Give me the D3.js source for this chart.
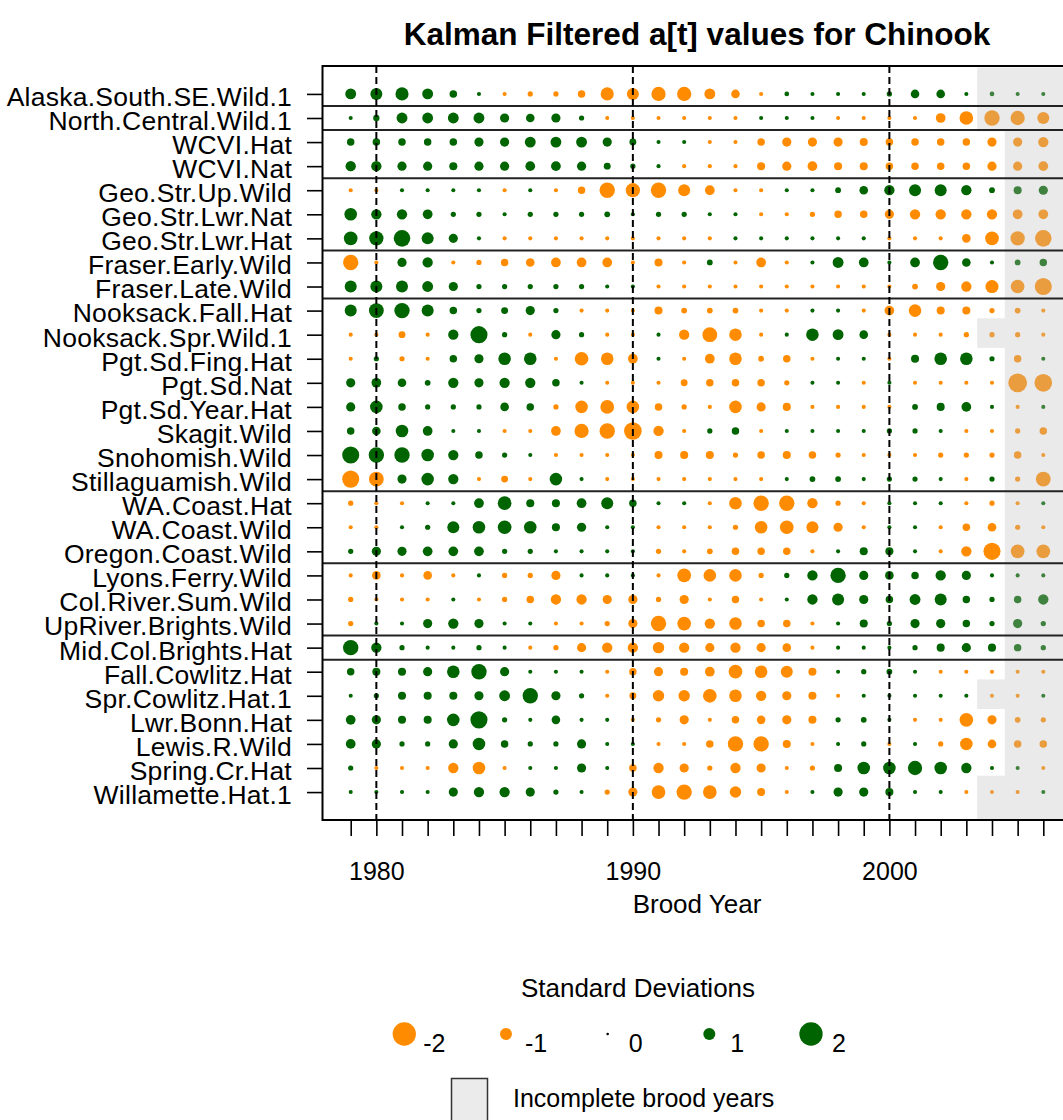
<!DOCTYPE html>
<html><head><meta charset="utf-8">
<script src="https://cdn.jsdelivr.net/npm/d3@7"></script>
<style>
body{margin:0;background:#fff}
svg{display:block}
text{font-family:"Liberation Sans",Arial,Helvetica,sans-serif;fill:#000}
</style>
</head><body>
<svg id="chart" width="1063" height="1120"></svg>
<script>
// ---------------- data ----------------
const years = [1979,1980,1981,1982,1983,1984,1985,1986,1987,1988,1989,1990,1991,1992,
               1993,1994,1995,1996,1997,1998,1999,2000,2001,2002,2003,2004,2005,2006];
const yearTickLabels = [1980, 1990, 2000];
const dashedYears = [1980, 1990, 2000];

const populations = [
  "Alaska.South.SE.Wild.1","North.Central.Wild.1","WCVI.Hat","WCVI.Nat",
  "Geo.Str.Up.Wild","Geo.Str.Lwr.Nat","Geo.Str.Lwr.Hat","Fraser.Early.Wild",
  "Fraser.Late.Wild","Nooksack.Fall.Hat","Nooksack.Spr.Wild.1","Pgt.Sd.Fing.Hat",
  "Pgt.Sd.Nat","Pgt.Sd.Year.Hat","Skagit.Wild","Snohomish.Wild","Stillaguamish.Wild",
  "WA.Coast.Hat","WA.Coast.Wild","Oregon.Coast.Wild","Lyons.Ferry.Wild",
  "Col.River.Sum.Wild","UpRiver.Brights.Wild","Mid.Col.Brights.Hat","Fall.Cowlitz.Hat",
  "Spr.Cowlitz.Hat.1","Lwr.Bonn.Hat","Lewis.R.Wild","Spring.Cr.Hat","Willamette.Hat.1"];

// groups end after these rows (horizontal separators)
const groupEnds = ["Alaska.South.SE.Wild.1","North.Central.Wild.1","WCVI.Nat","Geo.Str.Lwr.Hat",
  "Fraser.Late.Wild","Stillaguamish.Wild","Oregon.Coast.Wild","UpRiver.Brights.Wild","Mid.Col.Brights.Hat"];

// Kalman filtered a[t] values (standard deviations), 1979..2006
const alaskaSouthSE = [0.9,1.0,1.1,0.9,0.6,0.3,-0.3,-0.4,-0.4,-0.6,-1.1,-1.0,-1.2,-1.2,-0.9,-0.7,-0.3,0.35,0.3,0.3,0.3,0.4,0.7,0.7,0.3,0.35,0.3,0.3];
const northCentral = [0.3,0.5,0.9,0.9,0.9,0.9,0.75,0.7,0.75,0.4,-0.3,-0.3,-0.3,-0.3,-0.3,-0.3,0.3,0.3,0.3,-0.3,-0.3,-0.3,-0.3,-0.8,-1.15,-1.3,-1.2,-1.0];
const wcviHat = [0.6,0.6,0.6,0.6,0.6,0.75,0.75,0.9,0.9,0.9,0.75,0.55,0.3,0.3,-0.3,-0.3,-0.6,-0.75,-0.75,-0.75,-0.65,-0.6,-0.6,-0.6,-0.6,-0.75,-0.75,-0.85];
const wcviNat = [0.85,0.85,0.75,0.75,0.65,0.75,0.75,0.8,0.8,0.75,0.55,0.4,0.3,-0.3,-0.3,-0.3,-0.65,-0.75,-0.8,-0.65,-0.65,-0.6,-0.6,-0.6,-0.6,-0.75,-0.75,-0.8];
const geoStrUpWild = [-0.3,-0.3,0.3,0.3,0.3,0.3,-0.3,0.3,-0.3,-0.6,-1.3,-1.2,-1.3,-1.0,-0.8,-0.3,-0.3,0.3,0.3,0.45,0.7,0.85,1.0,1.0,0.85,0.45,0.65,0.75];
const geoStrLwrNat = [1.05,0.85,0.85,0.8,0.4,0.4,0.3,0.4,0.4,0.4,0.45,0.3,0.4,0.4,0.3,0.3,-0.3,-0.3,-0.4,-0.6,-0.6,-0.75,-0.85,-0.85,-0.85,-0.85,-0.8,-0.8];
const geoStrLwrHat = [1.15,1.2,1.4,1.0,0.75,0.3,-0.3,-0.3,-0.3,-0.3,-0.3,-0.3,-0.3,-0.3,-0.3,0.3,0.3,0.3,0.3,0.3,0.3,-0.3,-0.3,-0.3,-0.7,-1.15,-1.2,-1.4];
const fraserEarly = [-1.3,-0.3,0.75,0.85,-0.3,-0.4,-0.6,-0.7,-0.8,-0.8,-0.8,-0.3,-0.65,-0.3,0.45,-0.3,-0.8,-0.3,0.3,0.9,0.8,0.3,0.8,1.3,0.7,0.3,0.45,0.6];
const fraserLate = [1.0,1.0,1.0,0.9,0.75,0.4,0.4,0.4,0.4,0.4,0.3,0.3,-0.3,-0.3,-0.3,-0.3,-0.3,-0.3,-0.3,-0.3,-0.3,-0.3,-0.45,-0.75,-0.85,-1.1,-1.15,-1.45];
const nooksackFall = [1.0,1.25,1.3,1.0,0.6,0.4,0.55,0.75,0.4,-0.3,-0.3,-0.3,-0.65,-0.45,-0.45,-0.45,-0.3,-0.3,0.3,0.3,-0.3,-0.8,-1.05,-0.65,-0.65,-0.4,-0.45,-0.3];
const nooksackSpr = [-0.3,-0.3,-0.55,-0.3,0.85,1.45,0.4,-0.3,0.75,0.4,-0.3,-0.3,0.3,-0.85,-1.25,-1.05,-0.3,0.3,1.05,0.9,0.7,-0.3,-0.3,-0.3,-0.4,-0.4,-0.4,-0.3];
const pgtSdFingHat = [-0.3,0.4,-0.4,-0.3,0.6,0.75,1.05,1.05,-0.3,-1.15,-1.05,-0.8,0.3,-0.3,-0.8,-1.05,-0.45,-0.6,-0.3,0.3,0.3,-0.3,0.65,1.05,1.05,0.4,-0.6,0.3];
const pgtSdNat = [0.75,0.8,0.7,0.45,0.85,0.75,0.85,0.85,0.6,0.3,-0.3,-0.3,-0.3,-0.55,-0.6,-0.6,-0.6,-0.4,0.3,0.3,-0.3,0.3,-0.3,-0.3,-0.3,-0.3,-1.6,-1.5];
const pgtSdYearHat = [0.75,1.05,0.6,0.4,0.4,0.4,0.7,0.6,-0.4,-1.05,-1.15,-1.05,-0.6,-0.4,-0.3,-1.05,-0.75,-0.65,-0.3,-0.3,-0.3,-0.3,0.45,0.65,0.8,0.3,-0.3,0.3];
const skagitWild = [0.6,0.7,1.05,0.8,0.3,0.3,-0.3,-0.3,-0.8,-1.2,-1.3,-1.5,-0.85,-0.3,0.4,0.6,-0.3,0.3,0.3,0.3,0.3,0.4,0.4,0.3,-0.3,-0.3,-0.4,-0.6];
const snohomishWild = [1.45,1.3,1.3,1.05,0.85,0.6,0.4,0.3,-0.3,-0.3,-0.3,-0.3,-0.65,-0.65,-0.65,-0.4,-0.6,-0.65,-0.6,-0.4,-0.3,-0.3,-0.3,-0.4,-0.4,-0.4,-0.6,-0.3];
const stillaguamishWild = [-1.45,-1.25,0.75,1.05,0.85,-0.3,-0.55,-0.3,1.05,0.3,-0.3,-0.3,-0.3,-0.3,-0.3,-0.3,-0.3,0.3,0.45,0.45,0.3,0.4,0.4,0.3,-0.3,0.4,-0.4,-1.25];
const waCoastHat = [-0.4,-0.3,-0.3,0.3,0.3,0.8,1.15,0.65,0.65,0.8,1.0,0.6,0.3,0.3,-0.3,-1.05,-1.3,-1.3,-0.85,-0.4,-0.3,0.3,0.3,0.3,-0.3,-0.4,-0.3,0.3];
const waCoastWild = [-0.3,-0.3,0.3,0.4,1.0,1.05,1.15,1.05,0.65,0.75,0.3,0.3,-0.3,-0.3,-0.3,-0.4,-1.05,-1.15,-1.0,-0.75,-0.3,0.3,0.3,-0.3,-0.6,-0.7,-0.4,-0.3];
const oregonCoastWild = [0.4,0.75,0.75,0.8,0.8,0.8,0.4,0.4,0.3,0.3,0.3,0.3,-0.4,-0.3,-0.45,-0.6,-0.6,-0.6,-0.3,0.3,0.65,0.65,0.3,-0.3,-0.85,-1.45,-1.15,-1.15];
const lyonsFerryWild = [-0.3,-0.7,-0.3,-0.7,-0.3,0.3,-0.4,-0.4,-0.75,0.3,0.3,0.3,-0.3,-1.15,-1.05,-1.05,-0.4,0.4,0.85,1.3,0.75,0.7,0.6,0.85,0.75,0.3,0.3,0.3];
const colRiverSumWild = [-0.4,-0.3,-0.3,-0.3,0.3,-0.3,-0.4,-0.6,-0.85,-0.85,-0.75,-0.75,-0.4,-0.75,-0.3,-0.6,-0.3,0.3,0.85,1.0,0.75,0.6,0.9,1.0,0.6,0.4,0.6,0.85];
const upRiverBrightsWild = [-0.4,0.3,0.3,0.75,0.85,0.75,0.3,0.3,-0.3,-0.3,-0.4,-0.75,-1.3,-1.15,-0.85,-1.05,-0.6,-0.6,-0.3,0.3,0.65,0.4,0.75,0.75,0.6,0.4,0.75,0.4];
const midColBrightsHat = [1.3,0.85,0.4,0.3,0.3,0.4,0.3,-0.3,-0.4,-0.75,-0.85,-0.85,-0.95,-0.85,-0.75,-0.85,-0.75,-0.7,-0.3,0.3,0.3,0.3,0.4,0.65,0.75,0.65,0.6,0.4];
const fallCowlitzHat = [0.6,0.65,0.65,0.75,1.05,1.3,0.75,0.3,0.3,0.3,-0.3,-0.6,-0.75,-0.65,-0.8,-1.15,-1.05,-1.0,-0.65,0.3,0.4,0.45,0.3,-0.3,-0.3,-0.3,-0.3,-0.3];
const sprCowlitzHat = [0.3,0.4,0.65,0.65,0.65,0.75,0.9,1.3,0.75,0.4,-0.3,-0.55,-0.95,-0.95,-1.15,-1.05,-0.85,-0.75,-0.65,-0.3,0.3,0.3,0.3,0.3,0.3,-0.3,-0.3,0.3];
const lwrBonnHat = [0.8,0.75,0.65,0.65,1.05,1.45,0.4,0.3,0.7,0.3,0.3,-0.3,-0.4,-0.75,-0.3,-0.6,-0.7,-0.75,-0.65,0.4,0.45,0.3,-0.3,-0.3,-1.15,-0.75,-0.45,-0.4];
const lewisRWild = [0.8,0.75,0.4,0.4,0.75,1.05,0.6,0.4,0.4,0.75,0.3,0.3,-0.3,-0.3,-0.6,-1.3,-1.3,-0.65,-0.3,0.3,0.4,-0.3,0.3,-0.4,-1.05,-0.7,-0.6,-0.6];
const springCrHat = [0.4,-0.3,-0.3,-0.3,-0.85,-1.05,-0.3,0.3,0.3,0.75,0.3,-0.6,-0.85,-0.75,-0.4,-0.85,-0.75,-0.3,-0.4,0.65,1.05,1.05,1.2,1.05,0.85,0.3,0.3,-0.3];
const willametteHat = [0.3,0.3,0.3,0.3,0.75,0.85,0.85,0.75,0.4,0.3,-0.4,-0.75,-1.15,-1.3,-1.15,-0.95,-0.65,-0.3,0.3,0.75,0.75,0.65,0.3,0.3,-0.3,-0.3,-0.3,0.3];

const seriesValues = [alaskaSouthSE, northCentral, wcviHat, wcviNat, geoStrUpWild, geoStrLwrNat,
  geoStrLwrHat, fraserEarly, fraserLate, nooksackFall, nooksackSpr, pgtSdFingHat, pgtSdNat,
  pgtSdYearHat, skagitWild, snohomishWild, stillaguamishWild, waCoastHat, waCoastWild,
  oregonCoastWild, lyonsFerryWild, colRiverSumWild, upRiverBrightsWild, midColBrightsHat,
  fallCowlitzHat, sprCowlitzHat, lwrBonnHat, lewisRWild, springCrHat, willametteHat];

// incomplete brood years
const incompleteAllFrom = 2005;
const incompleteBlocks = [
  {from: 2004, rows: ["Alaska.South.SE.Wild.1","North.Central.Wild.1"]},
  {from: 2004, rows: ["Nooksack.Spr.Wild.1"]},
  {from: 2004, rows: ["Spr.Cowlitz.Hat.1"]},
  {from: 2004, rows: ["Willamette.Hat.1"]}
];
const legendValues = [-2, -1, 0, 1, 2];
const legendLabels = ["-2", "-1", "0", "1", "2"];

// ---------------- drawing ----------------
const svg = d3.select("#chart");
const ORANGE = "#ff8c00", GREEN = "#006400";
const plot = {left: 323, right: 1071, top: 66, bottom: 820};

const x = d3.scaleLinear().domain([1977.92, 2007.08]).range([plot.left, plot.right]);
const y = d3.scalePoint().domain(populations).range([plot.top, plot.bottom]).padding(1.16);
const step = y.step();
const r = d3.scaleLinear().domain([0, 2]).range([0.35, 11.65]);

const cells = [];
populations.forEach((p, i) => seriesValues[i].forEach((v, j) => cells.push({p, year: years[j], v})));

// points
svg.append("g").selectAll("circle").data(cells).join("circle")
  .attr("cx", d => x(d.year)).attr("cy", d => y(d.p))
  .attr("r", d => r(Math.abs(d.v)))
  .attr("fill", d => d.v < 0 ? ORANGE : GREEN);

// incomplete shading (semi-transparent overlay)
const shade = svg.append("g").attr("fill", "#c0c0c0").attr("fill-opacity", 0.33);
shade.append("rect")
  .attr("x", x(incompleteAllFrom - 0.5)).attr("y", plot.top + 1.5)
  .attr("width", plot.right - x(incompleteAllFrom - 0.5))
  .attr("height", plot.bottom - plot.top - 2);
incompleteBlocks.forEach(b => {
  const idx = b.rows.map(rw => populations.indexOf(rw));
  const first = d3.min(idx), last = d3.max(idx);
  let top = y(populations[first]) - 0.68 * step;
  let bot = y(populations[last]) + 0.55 * step;
  if (first === 0) top = plot.top + 1.5;
  if (last === populations.length - 1) bot = plot.bottom - 0.5;
  shade.append("rect")
    .attr("x", x(b.from - 0.5) - 2).attr("y", top)
    .attr("width", x(b.from + 0.5) - x(b.from - 0.5) + 2)
    .attr("height", bot - top);
});

// group separators
svg.append("g").selectAll("line").data(groupEnds).join("line")
  .attr("x1", plot.left).attr("x2", plot.right)
  .attr("y1", d => y(d) + step / 2).attr("y2", d => y(d) + step / 2)
  .attr("stroke", "#222").attr("stroke-width", 2);

// dashed year lines
svg.append("g").selectAll("line").data(dashedYears).join("line")
  .attr("x1", d => x(d)).attr("x2", d => x(d))
  .attr("y1", plot.top).attr("y2", plot.bottom)
  .attr("stroke", "#000").attr("stroke-width", 2).attr("stroke-dasharray", "7,4");

// frame
svg.append("rect").attr("x", plot.left - 0.5).attr("y", plot.top)
  .attr("width", plot.right - plot.left + 0.5).attr("height", plot.bottom - plot.top)
  .attr("fill", "none").attr("stroke", "#000").attr("stroke-width", 2);

// x axis
const xAxis = svg.append("g").attr("transform", `translate(0,${plot.bottom})`)
  .call(d3.axisBottom(x).tickValues(years)
    .tickFormat(d => yearTickLabels.includes(d) ? String(d) : "")
    .tickSize(16).tickPadding(26));
xAxis.select(".domain").remove();
xAxis.selectAll(".tick line").attr("stroke", "#000").attr("stroke-width", 1.6);
xAxis.selectAll("text").attr("font-size", 25).attr("font-family", "Liberation Sans, Arial, sans-serif");

// y axis
const yAxis = svg.append("g").attr("transform", `translate(${plot.left - 1},0)`)
  .call(d3.axisLeft(y).tickSize(15).tickPadding(15));
yAxis.select(".domain").remove();
yAxis.selectAll(".tick line").attr("stroke", "#000").attr("stroke-width", 1.6);
yAxis.selectAll("text").attr("font-size", 26.5).attr("letter-spacing", 0.25).attr("dy", "0.43em")
  .attr("font-family", "Liberation Sans, Arial, sans-serif");

// titles
svg.append("text").attr("x", 697).attr("y", 44.5).attr("text-anchor", "middle")
  .attr("font-size", 31.5).attr("font-weight", "bold").text("Kalman Filtered a[t] values for Chinook");
svg.append("text").attr("x", 697).attr("y", 913).attr("text-anchor", "middle")
  .attr("font-size", 26).text("Brood Year");

// legend
svg.append("text").attr("x", 638).attr("y", 997).attr("text-anchor", "middle")
  .attr("font-size", 26).text("Standard Deviations");
const lx = d3.scalePoint().domain(legendValues).range([404.3, 811]);
const lg = svg.append("g");
lg.selectAll("circle").data(legendValues).join("circle")
  .attr("cx", d => lx(d)).attr("cy", 1034)
  .attr("r", d => d === 0 ? 1.3 : r(Math.abs(d)))
  .attr("fill", d => d < 0 ? ORANGE : (d > 0 ? GREEN : "#000"));
lg.selectAll("text").data(legendValues).join("text")
  .attr("x", (d, i) => lx(d) + 19 + (d >= 0 ? 2 : 0)).attr("y", 1051.5)
  .attr("font-size", 25).text((d, i) => legendLabels[i]);

svg.append("rect").attr("x", 451.5).attr("y", 1078.5).attr("width", 36).attr("height", 50)
  .attr("fill", "#ebebeb").attr("stroke", "#333").attr("stroke-width", 1.5);
svg.append("text").attr("x", 513).attr("y", 1107).attr("font-size", 25).text("Incomplete brood years");
</script>
</body></html>
